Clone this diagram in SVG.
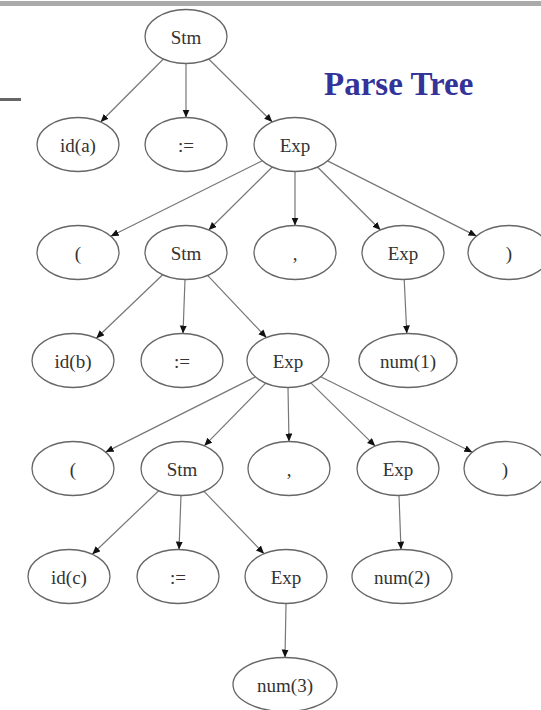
<svg xmlns="http://www.w3.org/2000/svg" width="541" height="710" viewBox="0 0 541 710">
<defs>
<marker id="ah" markerUnits="userSpaceOnUse" markerWidth="9" markerHeight="8" refX="8" refY="3.5" orient="auto">
<path d="M0,0 L8,3.5 L0,7 z" fill="#111"/>
</marker>
<style>
.n ellipse{fill:none;stroke:#666;stroke-width:1.3}
.n text{font-family:"Liberation Serif","Times New Roman",serif;font-size:19px;fill:#333;text-anchor:middle}
#edges line{stroke:#777;stroke-width:1.2;marker-end:url(#ah)}
</style>
</defs>
<rect x="0" y="0" width="541" height="710" fill="#fff"/>
<rect x="0" y="1" width="541" height="5" fill="#aaa"/>
<rect x="0" y="98" width="21" height="3" fill="#666"/>
<text x="324" y="94.5" font-family="'Liberation Serif','Times New Roman',serif" font-size="33" font-weight="bold" fill="#333399">Parse Tree</text>
<g id="edges">
<line x1="163.4" y1="59" x2="100.6" y2="122"/>
<line x1="186" y1="63.5" x2="186" y2="117.5"/>
<line x1="208.7" y1="59" x2="272.3" y2="122"/>
<line x1="262.3" y1="160.8" x2="110.7" y2="236.2"/>
<line x1="272.3" y1="167" x2="208.7" y2="230"/>
<line x1="295" y1="171.5" x2="295" y2="225.5"/>
<line x1="317.5" y1="167" x2="380.5" y2="230"/>
<line x1="327.5" y1="160.9" x2="476.5" y2="236.1"/>
<line x1="162.7" y1="274.7" x2="96.3" y2="338.3"/>
<line x1="185" y1="279.5" x2="183" y2="333.5"/>
<line x1="207.6" y1="275.4" x2="266.4" y2="337.6"/>
<line x1="404.2" y1="279.5" x2="406.8" y2="333.5"/>
<line x1="255.4" y1="376.9" x2="105.6" y2="452.1"/>
<line x1="265.7" y1="383.2" x2="204.3" y2="445.8"/>
<line x1="288" y1="387.5" x2="289" y2="441.5"/>
<line x1="310.8" y1="382.9" x2="375.2" y2="446.1"/>
<line x1="320.7" y1="376.8" x2="472.3" y2="452.2"/>
<line x1="158.7" y1="490.7" x2="92.3" y2="554.3"/>
<line x1="181" y1="495.5" x2="179" y2="549.5"/>
<line x1="204" y1="491.3" x2="264" y2="553.7"/>
<line x1="399" y1="495.5" x2="401" y2="549.5"/>
<line x1="286" y1="603.5" x2="285" y2="657.5"/>
</g>
<g id="n_stm1" class="n"><ellipse cx="186" cy="36.5" rx="41" ry="27"/><text x="186" y="44">Stm</text></g>
<g id="n_ida" class="n"><ellipse cx="78" cy="144.5" rx="41" ry="27"/><text x="78" y="152">id(a)</text></g>
<g id="n_asg1" class="n"><ellipse cx="186" cy="144.5" rx="41" ry="27"/><text x="186" y="152">:=</text></g>
<g id="n_exp1" class="n"><ellipse cx="295" cy="144.5" rx="41" ry="27"/><text x="295" y="152">Exp</text></g>
<g id="n_lp1" class="n"><ellipse cx="78" cy="252.5" rx="41" ry="27"/><text x="78" y="260">(</text></g>
<g id="n_stm2" class="n"><ellipse cx="186" cy="252.5" rx="41" ry="27"/><text x="186" y="260">Stm</text></g>
<g id="n_com1" class="n"><ellipse cx="295" cy="252.5" rx="41" ry="27"/><text x="295" y="260">,</text></g>
<g id="n_exp2" class="n"><ellipse cx="403" cy="252.5" rx="41" ry="27"/><text x="403" y="260">Exp</text></g>
<g id="n_rp1" class="n"><ellipse cx="509" cy="252.5" rx="41" ry="27"/><text x="509" y="260">)</text></g>
<g id="n_idb" class="n"><ellipse cx="73" cy="360.5" rx="41" ry="27"/><text x="73" y="368">id(b)</text></g>
<g id="n_asg2" class="n"><ellipse cx="182" cy="360.5" rx="41" ry="27"/><text x="182" y="368">:=</text></g>
<g id="n_exp3" class="n"><ellipse cx="288" cy="360.5" rx="41" ry="27"/><text x="288" y="368">Exp</text></g>
<g id="n_num1" class="n"><ellipse cx="408" cy="360.5" rx="49" ry="27"/><text x="408" y="368">num(1)</text></g>
<g id="n_lp2" class="n"><ellipse cx="73" cy="468.5" rx="41" ry="27"/><text x="73" y="476">(</text></g>
<g id="n_stm3" class="n"><ellipse cx="182" cy="468.5" rx="41" ry="27"/><text x="182" y="476">Stm</text></g>
<g id="n_com2" class="n"><ellipse cx="289" cy="468.5" rx="41" ry="27"/><text x="289" y="476">,</text></g>
<g id="n_exp4" class="n"><ellipse cx="398" cy="468.5" rx="41" ry="27"/><text x="398" y="476">Exp</text></g>
<g id="n_rp2" class="n"><ellipse cx="505" cy="468.5" rx="41" ry="27"/><text x="505" y="476">)</text></g>
<g id="n_idc" class="n"><ellipse cx="69" cy="576.5" rx="41" ry="27"/><text x="69" y="584">id(c)</text></g>
<g id="n_asg3" class="n"><ellipse cx="178" cy="576.5" rx="41" ry="27"/><text x="178" y="584">:=</text></g>
<g id="n_exp5" class="n"><ellipse cx="286" cy="576.5" rx="41" ry="27"/><text x="286" y="584">Exp</text></g>
<g id="n_num2" class="n"><ellipse cx="402" cy="576.5" rx="50" ry="27"/><text x="402" y="584">num(2)</text></g>
<g id="n_num3" class="n"><ellipse cx="285" cy="684.5" rx="52" ry="27"/><text x="285" y="692">num(3)</text></g>
</svg>
